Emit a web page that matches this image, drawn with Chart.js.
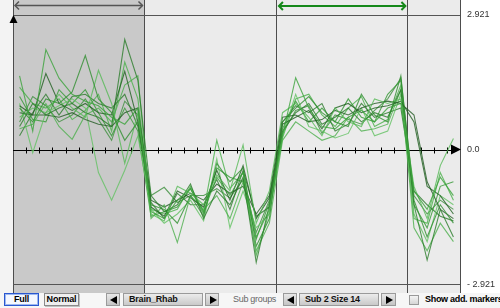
<!DOCTYPE html>
<html>
<head>
<meta charset="utf-8">
<script src="https://cdn.jsdelivr.net/npm/chart.js@4.4.1/dist/chart.umd.min.js"></script>
<style>
  body { margin: 0; width: 500px; height: 308px; overflow: hidden; background: #f6f6f6; font-family: "Liberation Sans", Arial, sans-serif; }
  #wrap { position: relative; width: 500px; height: 293px; }
  #bar { position: relative; width: 500px; height: 15px; background: #f6f6f6; }
  .btn, .fld, .arr, .chk { position: absolute; box-sizing: border-box; top: 0px; height: 13px; }
  .btn { font-weight: bold; font-size: 9px; line-height: 11px; text-align: center; color: #000; background: #efefef; border: 1px solid #8a8a8a; box-shadow: 1px 1px 0 #c0c0c0; letter-spacing: -0.2px; }
  .btn.on { border: 1px solid #2a57d0; box-shadow: inset 0 0 0 1px #9db8f0; background: #f4f7ff; }
  .fld { font-weight: bold; font-size: 9px; line-height: 11px; padding-left: 5px; color: #111; border: 1px solid #9a9a9a; background: linear-gradient(#ececec, #c9c9c9); letter-spacing: -0.2px; }
  .arr { border: 1px solid #9a9a9a; background: linear-gradient(#e8e8e8, #c4c4c4); }
  .arr i { position: absolute; top: 2px; width: 0; height: 0; border-top: 4px solid transparent; border-bottom: 4px solid transparent; }
  .arr.l i { left: 3px; border-right: 7px solid #000; }
  .arr.r i { left: 4px; border-left: 7px solid #000; }
  .chk { top: 2px; width: 10px; height: 10px; border: 1px solid #9a9a9a; background: linear-gradient(#f4f4f4, #d6d6d6); }
  .txt { position: absolute; top: 1px; font-size: 9px; line-height: 11px; white-space: nowrap; letter-spacing: -0.3px; }
</style>
</head>
<body>
<div id="wrap"><canvas id="expr" width="500" height="293"></canvas></div>
<div id="bar">
  <div class="btn on" style="left:4px;width:35px;">Full</div>
  <div class="btn" style="left:44px;width:35px;">Normal</div>
  <div class="arr l" style="left:106px;width:14px;"><i></i></div>
  <div class="fld" style="left:123px;width:80px;">Brain_Rhab</div>
  <div class="arr r" style="left:205px;width:14px;"><i></i></div>
  <div class="txt" style="left:233px;color:#666;">Sub groups</div>
  <div class="arr l" style="left:283px;width:14px;"><i></i></div>
  <div class="fld" style="left:299px;width:80px;">Sub 2 Size 14</div>
  <div class="arr r" style="left:381px;width:15px;"><i></i></div>
  <div class="chk" style="left:409px;"></div>
  <div class="txt" style="left:425px;font-weight:bold;">Show add. markers</div>
</div>
<script>
// Grenzen der Y-Achse und Abschnitte (Proben-Gruppen)
const yLimit = 2.921;
const yTickLabels = ['- 2.921', '0.0', '2.921'];
const groupBounds = [0, 10, 20, 30, 34];

// Expressionsprofile, eine Linie pro Gen (34 Proben)
const line01 = [1.6, 0.4, 2.17, 1.55, 1.2, 1.05, 0.95, 0.7, 0.55, 0.9, -1.35, -1.5, -1.1, -0.85, -1.35, -0.6, -1.0, -0.5, -1.9, -1.3, 0.3, 1.56, 0.9, 0.5, 0.45, 0.7, 0.85, 0.6, 0.9, 1.0, -0.9, -1.3, -0.6, -1.0];
const line02 = [0.9, 0.6, 1.1, 1.0, 1.25, 2.04, 1.1, 0.8, 0.2, 0.6, -1.2, -1.3, -1.6, -1.0, -1.45, -0.3, -0.7, -0.4, -2.1, -1.5, 0.6, 0.9, 1.15, 0.8, 0.6, 0.5, 1.2, 0.75, 0.6, 1.6, -1.1, -1.9, -1.2, -1.6];
const line03 = [0.7, 0.9, 0.8, 1.2, 0.9, 0.7, 1.72, 1.0, -0.3, 0.8, -1.4, -1.55, -0.8, -0.95, -1.2, -0.55, -0.9, 0.1, -1.6, -0.9, 0.8, 1.0, 0.7, 0.3, 0.9, 0.6, 0.5, 1.1, 1.0, 1.1, -0.8, -1.5, -0.35, 0.24];
const line04 = [0.5, 1.0, 0.75, 0.9, 1.0, 0.8, 0.7, 0.5, 2.39, 1.5, -1.0, -1.35, -1.2, -0.75, -1.5, -0.9, -1.2, -0.6, -2.45, -1.2, 0.4, 0.8, 1.0, 0.55, 0.7, 0.9, 0.6, 0.8, 0.7, 1.3, -1.2, -2.4, -1.3, -1.9];
const line05 = [0.95, 0.75, 1.65, 1.0, 0.85, 1.0, 0.8, 0.75, 1.7, 0.6, -1.25, -1.45, -0.9, -1.05, -1.25, -0.45, -1.1, -0.35, -1.5, -1.05, 0.55, 0.7, 0.85, 0.45, 0.9, 1.0, 0.8, 0.9, 0.95, 1.05, 0.6, -0.8, -1.0, -1.4];
const line06 = [0.45, 0.55, 1.0, 0.5, 0.22, 0.75, 0.9, 0.6, 1.4, 1.6, -1.5, -1.2, -2.02, -1.0, -1.3, -1.0, -1.5, -0.7, -2.2, -1.6, 0.2, 0.6, 0.4, 0.2, 0.3, 0.7, 0.4, 0.45, 0.55, 1.3, -1.7, -2.2, -1.6, -2.0];
const line07 = [0.8, 0.75, 0.75, 0.7, 0.8, 0.65, 0.55, 0.5, 0.8, 0.9, -1.1, -1.25, -1.1, -0.95, -1.1, -0.75, -0.95, -0.8, -1.4, -1.0, 0.7, 0.75, 0.6, 0.65, 0.85, 0.75, 0.9, 1.0, 1.05, 1.0, 0.75, -0.7, -1.3, -1.5];
const line08 = [1.0, -0.07, 0.8, 0.95, 1.1, 0.9, -0.5, -1.1, -0.45, 0.3, -1.3, -1.6, -1.4, -1.1, -1.55, -0.2, -1.7, -0.9, -1.7, -1.4, 0.3, 1.2, 0.5, 0.4, 0.25, 0.35, 0.9, 0.3, 0.4, 1.2, -1.4, -2.0, -1.0, -1.2];
const line09 = [1.15, 0.65, 0.6, 1.3, 1.0, 1.3, 0.8, 0.3, 0.9, 0.4, -1.45, -1.35, -1.25, -0.85, -1.4, -0.4, -0.6, -0.7, -1.95, -1.15, 0.45, 1.05, 0.6, 0.9, 0.6, 1.1, 0.7, 0.6, 1.2, 1.5, -1.2, -1.7, -0.8, -0.7];
const line10 = [0.3, 0.8, 1.2, 0.75, 1.15, 1.2, 1.0, 0.9, 1.2, 0.5, -1.15, -1.5, -0.95, -1.2, -1.2, -0.65, -1.3, -0.45, -1.45, -1.25, 0.6, 0.95, 0.8, 1.0, 0.4, 0.55, 1.0, 0.7, 0.8, 0.9, -0.9, -1.2, -1.45, -1.55];
const line11 = [1.35, 1.0, 0.9, 1.1, 0.65, 0.85, 1.2, 0.4, 1.9, 1.1, -1.3, -1.4, -1.3, -0.8, -1.35, 0.2, -0.85, -0.5, -2.3, -1.35, 0.25, 1.1, 1.2, 0.75, 0.5, 0.9, 1.15, 0.5, 0.65, 1.4, -1.5, -1.6, -0.5, -1.1];
const line12 = [0.6, 1.15, 0.95, 0.6, 0.75, 1.1, 0.65, 0.2, 1.05, 0.75, -1.0, -0.82, -1.15, -1.0, -1.0, -0.85, -1.05, -0.65, -1.8, -1.1, 0.35, 0.85, 0.95, 0.35, 0.75, 0.65, 0.55, 0.85, 1.1, 1.55, -1.0, -1.4, -1.1, -1.3];

const lines = [line01, line02, line03, line04, line05, line06, line07, line08, line09, line10, line11, line12];
const greens = ['#3aa33a', '#2f8f2f', '#55b955', '#2a7d2a', '#1f5f1f', '#4caf4c', '#245c24', '#62c262', '#339933', '#2d7a2d', '#48b048', '#3c8f3c'];

// Hintergrund, Abschnitte, Nulllinie und Pfeile
const decor = {
    id: 'decor',
    beforeDraw(chart) {
        const {ctx, chartArea: a, scales: {x}} = chart;
        const H = chart.height;
        ctx.save();
        ctx.fillStyle = '#ffffff';
        ctx.fillRect(0, 0, chart.width, H);
        ctx.fillStyle = '#f3f3f3';
        ctx.fillRect(0, 0, a.left, H);
        ctx.fillStyle = '#ebebeb';
        ctx.fillRect(a.left, 0, a.right - a.left, H);
        ctx.fillStyle = '#c9c9c9';
        ctx.fillRect(x.getPixelForValue(groupBounds[0]), 0, x.getPixelForValue(groupBounds[1]) - x.getPixelForValue(groupBounds[0]), H);
        ctx.strokeStyle = '#4d4d4d';
        ctx.lineWidth = 1;
        groupBounds.forEach(b => {
            const px = Math.round(x.getPixelForValue(b)) + 0.5;
            ctx.beginPath(); ctx.moveTo(px, 0); ctx.lineTo(px, H); ctx.stroke();
        });
        ctx.restore();
    },
    beforeDatasetsDraw(chart) {
        const {ctx, chartArea: a, scales: {x, y}} = chart;
        const y0 = Math.round(y.getPixelForValue(0)) + 0.5;
        ctx.save();
        ctx.strokeStyle = '#000';
        ctx.lineWidth = 1;
        ctx.beginPath(); ctx.moveTo(a.left, y0); ctx.lineTo(a.right - 6, y0); ctx.stroke();
        for (let k = 1; k < groupBounds[groupBounds.length - 1]; k++) {
            const px = Math.round(x.getPixelForValue(k)) + 0.5;
            ctx.beginPath(); ctx.moveTo(px, y0 - 3); ctx.lineTo(px, y0 + 3); ctx.stroke();
        }
        ctx.restore();
    },
    afterDraw(chart) {
        const {ctx, chartArea: a, scales: {x, y}} = chart;
        const y0 = y.getPixelForValue(0);
        const yTop = y.getPixelForValue(yLimit);
        ctx.save();
        // Pfeil am Ende der Nulllinie
        ctx.fillStyle = '#000';
        ctx.beginPath(); ctx.moveTo(a.right - 9, y0 - 5); ctx.lineTo(a.right + 1, y0); ctx.lineTo(a.right - 9, y0 + 5); ctx.closePath(); ctx.fill();
        // Dreieck oben links
        ctx.beginPath(); ctx.moveTo(a.left + 0.5, yTop); ctx.lineTo(a.left + 4.5, yTop + 8); ctx.lineTo(a.left - 3.5, yTop + 8); ctx.closePath(); ctx.fill();
        // Doppelpfeile über den Gruppen
        const arrow = (x1, x2, yy, color, w) => {
            ctx.strokeStyle = color; ctx.lineWidth = w;
            ctx.beginPath(); ctx.moveTo(x1, yy); ctx.lineTo(x2, yy); ctx.stroke();
            ctx.beginPath();
            ctx.moveTo(x1 + 4, yy - 4); ctx.lineTo(x1, yy); ctx.lineTo(x1 + 4, yy + 4);
            ctx.moveTo(x2 - 4, yy - 4); ctx.lineTo(x2, yy); ctx.lineTo(x2 - 4, yy + 4);
            ctx.stroke();
        };
        arrow(x.getPixelForValue(groupBounds[0]) + 2, x.getPixelForValue(groupBounds[1]) - 2, 5.5, '#555555', 1.5);
        arrow(x.getPixelForValue(groupBounds[2]) + 3, x.getPixelForValue(groupBounds[3]) - 2, 6, '#15881a', 2);
        ctx.restore();
    }
};

const ctx = document.getElementById('expr');
new Chart(ctx, {
    type: 'line',
    data: {
        datasets: lines.map((vals, idx) => ({
            data: vals.map((v, i) => ({x: i + 0.5, y: v})),
            borderColor: greens[idx % greens.length] + 'cc',
            borderWidth: 1.1,
            pointRadius: 0,
            tension: 0,
            fill: false
        }))
    },
    options: {
        responsive: false,
        animation: false,
        devicePixelRatio: 1,
        layout: {padding: {left: 13, top: 0, right: 0, bottom: 0}},
        plugins: {legend: {display: false}, tooltip: {enabled: false}},
        scales: {
            x: {type: 'linear', min: 0, max: groupBounds[groupBounds.length - 1], display: false},
            y: {
                type: 'linear',
                position: 'right',
                min: -3.116,
                max: 3.247,
                afterBuildTicks: (s) => { s.ticks = [{value: -yLimit}, {value: 0}, {value: yLimit}]; },
                afterFit: (s) => { s.width = 40; s.paddingTop = 0; s.paddingBottom = 0; },
                ticks: {
                    padding: 7,
                    color: '#333',
                    font: {family: 'Liberation Sans', size: 9},
                    callback: (v, i) => yTickLabels[i]
                },
                grid: {
                    drawTicks: false,
                    color: (c) => c.tick && c.tick.value !== 0 ? '#555555' : 'rgba(0,0,0,0)'
                },
                border: {display: false}
            }
        }
    },
    plugins: [decor]
});
</script>
</body>
</html>
